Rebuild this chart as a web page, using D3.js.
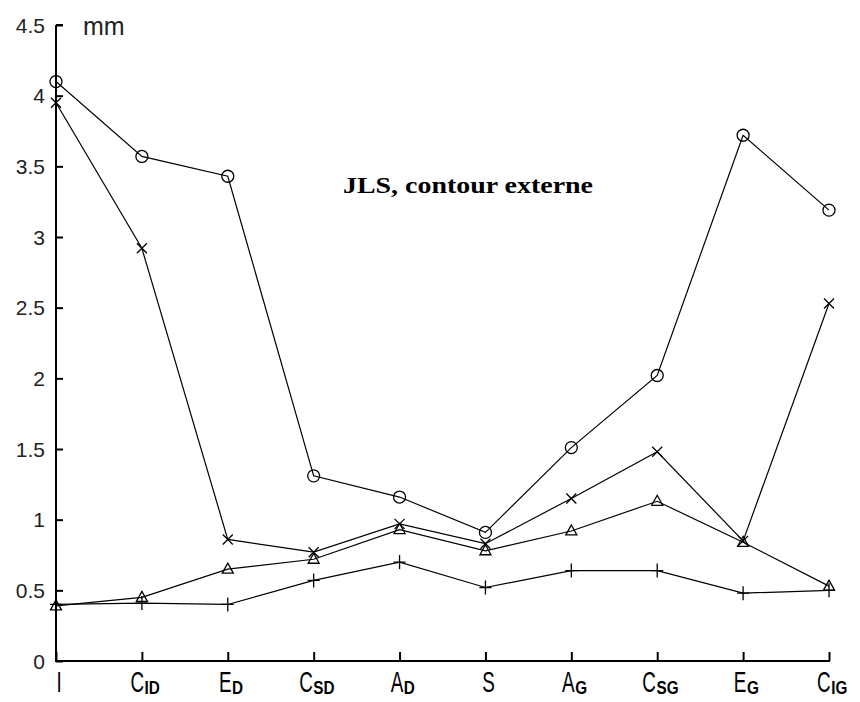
<!DOCTYPE html>
<html>
<head>
<meta charset="utf-8">
<script src="https://cdn.jsdelivr.net/npm/d3@7"></script>
<style>
html,body{margin:0;padding:0;background:#fff;}
svg{display:block;}
</style>
</head>
<body>
<svg id="chart" width="860" height="702"></svg>
<script>
// ---- data ----
const categories = ["I", "CID", "ED", "CSD", "AD", "S", "AG", "CSG", "EG", "CIG"];
const labelMain = ["I", "C", "E", "C", "A", "S", "A", "C", "E", "C"];
const labelSub  = ["", "ID", "D", "SD", "D", "", "G", "SG", "G", "IG"];
const circleSeries   = [4.10, 3.57, 3.43, 1.31, 1.16, 0.91, 1.51, 2.02, 3.72, 3.19];
const crossSeries    = [3.95, 2.92, 0.86, 0.77, 0.97, 0.83, 1.15, 1.48, 0.85, 2.53];
const triangleSeries = [0.39, 0.45, 0.65, 0.72, 0.93, 0.78, 0.92, 1.13, 0.84, 0.53];
const plusSeries     = [0.40, 0.41, 0.40, 0.57, 0.70, 0.52, 0.64, 0.64, 0.48, 0.50];
const yTicks = [0, 0.5, 1, 1.5, 2, 2.5, 3, 3.5, 4, 4.5];
const yTickLabels = ["0", "0.5", "1", "1.5", "2", "2.5", "3", "3.5", "4", "4.5"];
const unitLabel = "mm";
const titleText = "JLS, contour externe";

const svg = d3.select("#chart");
const x = d3.scalePoint().domain(categories).range([56, 829]);
const y = d3.scaleLinear().domain([0, 4.5]).range([661, 25]);

// ---- axes ----
const yAxis = d3.axisRight(y).tickValues(yTicks).tickSize(7).tickFormat(() => "");
const gy = svg.append("g").attr("transform", "translate(56,0)").call(yAxis);
gy.select(".domain").attr("d", `M0,${y(4.5)}H7M0,${y(4.5)}V${y(0)}`).attr("stroke", "#000").attr("stroke-width", 2).attr("fill", "none");
gy.selectAll(".tick line").attr("stroke", "#000").attr("stroke-width", 2);

svg.append("g").selectAll("text").data(yTicks).join("text")
  .attr("x", 45).attr("y", d => y(d) + 7.5)
  .attr("text-anchor", "end")
  .attr("font-family", "Liberation Sans, Arial, sans-serif")
  .attr("font-size", 21).attr("fill", "#222")
  .text((d, i) => yTickLabels[i]);

const xAxis = d3.axisTop(x).tickSize(9).tickFormat(() => "");
const gx = svg.append("g").attr("transform", `translate(0,${y(0)})`).call(xAxis);
gx.select(".domain").attr("d", `M${x.range()[0] - 1},0H${x.range()[1] + 1}`).attr("stroke", "#000").attr("stroke-width", 2).attr("fill", "none");
gx.selectAll(".tick line").attr("stroke", "#000").attr("stroke-width", 2);

// x labels with subscripts
categories.forEach((c, i) => {
  const g = svg.append("g");
  const m = g.append("text")
    .attr("font-family", "Liberation Sans, Arial, sans-serif")
    .attr("font-size", 29).attr("fill", "#000")
    .text(labelMain[i]);
  const mw = m.node().getComputedTextLength() * 0.65;
  let sw = 0, s = null;
  if (labelSub[i]) {
    s = g.append("text")
      .attr("font-family", "Liberation Sans, Arial, sans-serif")
      .attr("font-size", 18).attr("font-weight", "bold").attr("fill", "#000")
      .text(labelSub[i]);
    sw = s.node().getComputedTextLength() * 0.85;
  }
  const total = mw + sw;
  const x0 = x(c) + 3 - total / 2;
  m.attr("transform", `translate(${x0},692) scale(0.65,1)`);
  if (s) s.attr("transform", `translate(${x0 + mw + 0.5},694) scale(0.85,1)`);
});

// unit label and title
svg.append("text").attr("x", 83).attr("y", 35)
  .attr("font-family", "Liberation Sans, Arial, sans-serif")
  .attr("font-size", 25).attr("fill", "#222").text(unitLabel);

svg.append("text").attr("x", 343).attr("y", 193)
  .attr("font-family", "Liberation Serif, Times New Roman, serif")
  .attr("font-weight", "bold").attr("font-size", 24)
  .attr("textLength", 250).attr("lengthAdjust", "spacingAndGlyphs")
  .attr("fill", "#000").text(titleText);

// ---- series ----
const line = d3.line().x((d, i) => x(categories[i])).y(d => y(d));
const seriesList = [
  {values: circleSeries, marker: "circle"},
  {values: crossSeries, marker: "cross"},
  {values: triangleSeries, marker: "triangle"},
  {values: plusSeries, marker: "plus"}
];

seriesList.forEach(s => {
  svg.append("path").datum(s.values).attr("d", line)
    .attr("fill", "none").attr("stroke", "#000").attr("stroke-width", 1.2);
});

seriesList.forEach(s => {
  const g = svg.append("g").attr("fill", "none").attr("stroke", "#000").attr("stroke-width", 1.3);
  s.values.forEach((v, i) => {
    const cx = x(categories[i]), cy = y(v);
    if (s.marker === "circle") {
      g.append("circle").attr("cx", cx).attr("cy", cy).attr("r", 6);
    } else if (s.marker === "cross") {
      g.append("path").attr("d", `M${cx-5},${cy-5}L${cx+5},${cy+5}M${cx-5},${cy+5}L${cx+5},${cy-5}`);
    } else if (s.marker === "triangle") {
      g.append("path").attr("d", `M${cx},${cy-6}L${cx+5.5},${cy+4}L${cx-5.5},${cy+4}Z`);
    } else {
      g.append("path").attr("d", `M${cx-6},${cy}H${cx+6}M${cx},${cy-7}V${cy+7}`);
    }
  });
});
</script>
</body>
</html>
